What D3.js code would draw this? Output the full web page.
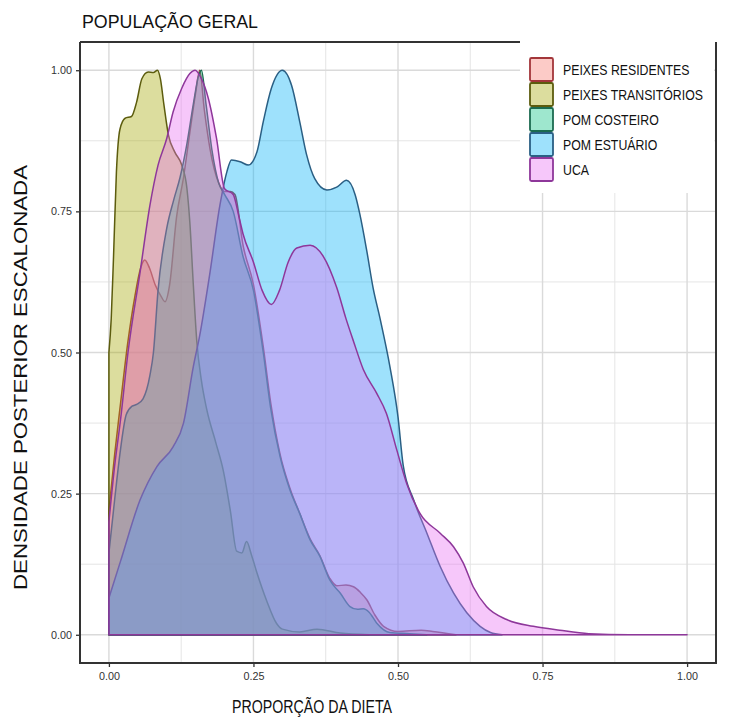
<!DOCTYPE html>
<html>
<head>
<meta charset="utf-8">
<script src="https://cdn.jsdelivr.net/npm/d3@7"></script>
<style>
  html, body { margin: 0; padding: 0; background: #ffffff; }
  svg { display: block; }
  text { font-family: "Liberation Sans", Arial, sans-serif; }
</style>
</head>
<body>
<svg id="chart" width="746" height="717"></svg>
<script>
// Posterior densities (scaled to a maximum of 1) for each diet source
const sources = ["PEIXES RESIDENTES", "PEIXES TRANSITÓRIOS", "POM COSTEIRO", "POM ESTUÁRIO", "UCA"];

const peixesResidentesX = [0, 0.01, 0.019, 0.033, 0.045, 0.055, 0.062, 0.07, 0.08, 0.09, 0.097, 0.105, 0.117, 0.129, 0.14, 0.15, 0.157, 0.165, 0.175, 0.19, 0.2, 0.21, 0.218, 0.232, 0.25, 0.267, 0.28, 0.296, 0.313, 0.33, 0.348, 0.365, 0.382, 0.394, 0.41, 0.423, 0.435, 0.446, 0.46, 0.475, 0.5, 0.54, 0.56, 0.6];
const peixesResidentesY = [0.22, 0.32, 0.40, 0.52, 0.60, 0.65, 0.664, 0.65, 0.62, 0.60, 0.59, 0.62, 0.74, 0.81, 0.89, 0.96, 1.0, 0.93, 0.86, 0.8, 0.785, 0.785, 0.78, 0.69, 0.62, 0.51, 0.41, 0.32, 0.26, 0.215, 0.17, 0.14, 0.10, 0.087, 0.088, 0.085, 0.075, 0.062, 0.035, 0.015, 0.006, 0.008, 0.006, 0];

const peixesTransitoriosX = [0, 0.004, 0.008, 0.013, 0.019, 0.028, 0.039, 0.048, 0.057, 0.068, 0.077, 0.084, 0.089, 0.095, 0.103, 0.114, 0.126, 0.135, 0.14, 0.146, 0.152, 0.16, 0.169, 0.185, 0.198, 0.21, 0.221, 0.23, 0.238, 0.247, 0.256, 0.273, 0.29, 0.3, 0.33, 0.36, 0.4, 0.45];
const peixesTransitoriosY = [0.5, 0.56, 0.67, 0.82, 0.895, 0.915, 0.918, 0.944, 0.985, 0.997, 0.996, 1.0, 0.985, 0.94, 0.885, 0.855, 0.832, 0.79, 0.73, 0.62, 0.52, 0.45, 0.40, 0.34, 0.29, 0.22, 0.148, 0.145, 0.165, 0.14, 0.11, 0.06, 0.02, 0.01, 0.005, 0.01, 0.003, 0];

const pomCosteiroX = [0, 0.01, 0.019, 0.03, 0.04, 0.048, 0.059, 0.071, 0.077, 0.085, 0.1, 0.112, 0.123, 0.135, 0.146, 0.155, 0.16, 0.168, 0.178, 0.19, 0.2, 0.215, 0.232, 0.25, 0.267, 0.28, 0.296, 0.313, 0.33, 0.348, 0.365, 0.382, 0.4, 0.417, 0.43, 0.44, 0.45, 0.463, 0.486, 0.52, 0.55];
const pomCosteiroY = [0.145, 0.24, 0.32, 0.39, 0.405, 0.408, 0.418, 0.46, 0.5, 0.61, 0.72, 0.77, 0.81, 0.87, 0.94, 0.99, 1.0, 0.94, 0.86, 0.8, 0.78, 0.75, 0.67, 0.61, 0.5, 0.4, 0.316, 0.257, 0.215, 0.168, 0.139, 0.097, 0.074, 0.05, 0.045, 0.046, 0.04, 0.021, 0.004, 0.002, 0];

const pomEstuarioX = [0, 0.02, 0.054, 0.083, 0.111, 0.129, 0.146, 0.157, 0.175, 0.192, 0.204, 0.212, 0.227, 0.241, 0.256, 0.267, 0.281, 0.3, 0.316, 0.33, 0.342, 0.356, 0.377, 0.394, 0.411, 0.426, 0.434, 0.446, 0.457, 0.469, 0.486, 0.5, 0.509, 0.527, 0.55, 0.573, 0.596, 0.619, 0.642, 0.66, 0.68];
const pomEstuarioY = [0.065, 0.13, 0.239, 0.298, 0.333, 0.375, 0.475, 0.53, 0.643, 0.761, 0.82, 0.841, 0.838, 0.832, 0.855, 0.909, 0.968, 1.0, 0.973, 0.909, 0.85, 0.808, 0.788, 0.793, 0.805, 0.779, 0.745, 0.68, 0.614, 0.56, 0.475, 0.386, 0.3, 0.239, 0.18, 0.121, 0.074, 0.039, 0.015, 0.004, 0];

const ucaX = [0, 0.01, 0.02, 0.033, 0.054, 0.071, 0.085, 0.1, 0.111, 0.126, 0.14, 0.149, 0.16, 0.172, 0.186, 0.2, 0.215, 0.225, 0.232, 0.25, 0.265, 0.281, 0.295, 0.31, 0.325, 0.348, 0.371, 0.394, 0.41, 0.423, 0.44, 0.463, 0.48, 0.498, 0.515, 0.538, 0.573, 0.596, 0.613, 0.63, 0.653, 0.688, 0.734, 0.78, 0.83, 0.9, 1.0];
const ucaY = [0.2, 0.3, 0.38, 0.5, 0.643, 0.761, 0.832, 0.879, 0.926, 0.968, 0.994, 1.0, 0.985, 0.95, 0.88, 0.79, 0.78, 0.74, 0.71, 0.66, 0.61, 0.585, 0.61, 0.66, 0.685, 0.69, 0.67, 0.615, 0.56, 0.52, 0.47, 0.428, 0.392, 0.327, 0.268, 0.215, 0.18, 0.156, 0.127, 0.085, 0.05, 0.027, 0.015, 0.008, 0.002, 0, 0];

const xTicks = [0, 0.25, 0.5, 0.75, 1];
const yTicks = [0, 0.25, 0.5, 0.75, 1];
const xTickLabels = ["0.00", "0.25", "0.50", "0.75", "1.00"];
const yTickLabels = ["0.00", "0.25", "0.50", "0.75", "1.00"];

const fillColors = ["#F8766D", "#A3A500", "#00BF7D", "#00B0F6", "#E76BF3"];
const lineColors = ["#A3363A", "#5C5C0E", "#1B6B50", "#2A5F84", "#8E379A"];

const seriesX = [peixesResidentesX, peixesTransitoriosX, pomCosteiroX, pomEstuarioX, ucaX];
const seriesY = [peixesResidentesY, peixesTransitoriosY, pomCosteiroY, pomEstuarioY, ucaY];

const svg = d3.select("#chart");

// Panel geometry
const panel = { left: 80, right: 716, top: 42, bottom: 663 };
const x = d3.scaleLinear().domain([-0.05, 1.05]).range([panel.left, panel.right]);
const y = d3.scaleLinear().domain([-0.05, 1.05]).range([panel.bottom, panel.top]);

// Grid: minor then major lines
const minor = [0.125, 0.375, 0.625, 0.875];
const grid = svg.append("g");
grid.selectAll("line.vmin").data(minor).join("line")
  .attr("x1", d => x(d)).attr("x2", d => x(d))
  .attr("y1", panel.top).attr("y2", panel.bottom)
  .attr("stroke", "#E5E5E5").attr("stroke-width", 1);
grid.selectAll("line.hmin").data(minor).join("line")
  .attr("x1", panel.left).attr("x2", panel.right)
  .attr("y1", d => y(d)).attr("y2", d => y(d))
  .attr("stroke", "#E5E5E5").attr("stroke-width", 1);
grid.selectAll("line.vmaj").data(xTicks).join("line")
  .attr("x1", d => x(d)).attr("x2", d => x(d))
  .attr("y1", panel.top).attr("y2", panel.bottom)
  .attr("stroke", "#DADADA").attr("stroke-width", 1.4);
grid.selectAll("line.hmaj").data(yTicks).join("line")
  .attr("x1", panel.left).attr("x2", panel.right)
  .attr("y1", d => y(d)).attr("y2", d => y(d))
  .attr("stroke", "#DADADA").attr("stroke-width", 1.4);

// Density polygons, closed down to the baseline and outlined all round
const area = d3.area()
  .x(d => x(d[0]))
  .y0(y(0))
  .y1(d => y(d[1]))
  .curve(d3.curveMonotoneX);

const dens = svg.append("g");
sources.forEach((name, i) => {
  const pts = seriesX[i].map((v, j) => [v, seriesY[i][j]]);
  dens.append("path")
    .datum(pts)
    .attr("d", area)
    .attr("fill", fillColors[i])
    .attr("fill-opacity", 0.38)
    .attr("stroke", lineColors[i])
    .attr("stroke-width", 1.5)
    .attr("stroke-linejoin", "round");
});

// Axes
const xAxis = d3.axisBottom(x).tickValues(xTicks).tickFormat((d, i) => xTickLabels[i]).tickSize(4).tickPadding(5);
const yAxis = d3.axisLeft(y).tickValues(yTicks).tickFormat((d, i) => yTickLabels[i]).tickSize(4).tickPadding(4);

const gx = svg.append("g").attr("transform", `translate(0,${panel.bottom})`).call(xAxis);
const gy = svg.append("g").attr("transform", `translate(${panel.left},0)`).call(yAxis);
[gx, gy].forEach(g => {
  g.select(".domain").remove();
  g.selectAll(".tick line").attr("stroke", "#333333").attr("stroke-width", 1.3);
  g.selectAll(".tick text").attr("fill", "#333333").attr("font-size", 11)
    .attr("font-family", "'Liberation Sans', Arial, sans-serif")
    .attr("textLength", 21).attr("lengthAdjust", "spacingAndGlyphs");
});

// Legend box sits over the upper right of the panel
const legendG = svg.append("g");
legendG.append("rect")
  .attr("x", 520).attr("y", 20).attr("width", 194).attr("height", 173)
  .attr("fill", "#ffffff");

// Panel border (left, bottom, right, and the visible part of the top)
const border = svg.append("g").attr("stroke", "#333333").attr("stroke-width", 2).attr("fill", "none");
border.append("path")
  .attr("d", `M${panel.left},${panel.top} V${panel.bottom} H${panel.right} V${panel.top}`);
border.append("line")
  .attr("x1", panel.left).attr("x2", 520).attr("y1", panel.top).attr("y2", panel.top);

sources.forEach((name, i) => {
  const yy = 58 + i * 25;
  legendG.append("rect")
    .attr("x", 530).attr("y", yy).attr("width", 23).attr("height", 23)
    .attr("rx", 1.5)
    .attr("fill", fillColors[i]).attr("fill-opacity", 0.38)
    .attr("stroke", lineColors[i]).attr("stroke-width", 1.8);
  legendG.append("text")
    .attr("transform", `translate(563,${yy + 16.5}) scale(0.88,1)`)
    .attr("font-size", 14).attr("fill", "#111111")
    .text(name);
});

// Titles
svg.append("text")
  .attr("x", 82).attr("y", 28)
  .attr("font-size", 18).attr("fill", "#111111")
  .attr("textLength", 176).attr("lengthAdjust", "spacingAndGlyphs")
  .text("POPULAÇÃO GERAL");

svg.append("text")
  .attr("x", 232).attr("y", 713)
  .attr("font-size", 18).attr("fill", "#111111")
  .attr("textLength", 160).attr("lengthAdjust", "spacingAndGlyphs")
  .text("PROPORÇÃO DA DIETA");

svg.append("text")
  .attr("transform", "translate(27,590) rotate(-90)")
  .attr("font-size", 19).attr("fill", "#111111")
  .attr("textLength", 425).attr("lengthAdjust", "spacingAndGlyphs")
  .text("DENSIDADE POSTERIOR ESCALONADA");
</script>
</body>
</html>
